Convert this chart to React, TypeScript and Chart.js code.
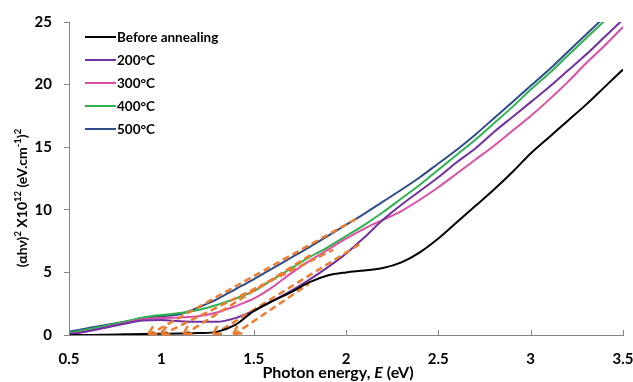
import React, { useEffect, useRef } from 'react';
import { Chart, registerables } from 'chart.js';

Chart.register(...registerables);

// ---------- data ----------
const energy = [0.5, 0.6, 0.7, 0.8, 0.9, 1.0, 1.1, 1.2, 1.3, 1.4, 1.5, 1.6, 1.7, 1.8, 1.9, 2.0, 2.1, 2.2, 2.3, 2.4, 2.5, 2.6, 2.7, 2.8, 2.9, 3.0, 3.1, 3.2, 3.3, 3.4, 3.5];

const beforeAnnealing = [0, 0, 0.02, 0.05, 0.08, 0.1, 0.12, 0.15, 0.25, 0.8, 1.9, 2.7, 3.4, 4.2, 4.75, 5.0, 5.15, 5.35, 5.8, 6.6, 7.7, 9.0, 10.3, 11.6, 13.0, 14.5, 15.8, 17.1, 18.4, 19.8, 21.2];
const annealed200 = [0.05, 0.3, 0.6, 0.9, 1.15, 1.2, 1.1, 1.05, 1.05, 1.35, 1.95, 2.7, 3.5, 4.4, 5.4, 6.5, 7.8, 9.2, 10.4, 11.5, 12.6, 13.8, 14.9, 16.2, 17.4, 18.6, 19.8, 21.1, 22.4, 23.8, 25.2];
const annealed300 = [0.05, 0.3, 0.6, 0.95, 1.25, 1.35, 1.4, 1.5, 1.8, 2.3, 2.9, 3.8, 4.9, 5.9, 6.8, 7.7, 8.5, 9.2, 9.9, 10.8, 11.8, 12.9, 14.0, 15.1, 16.3, 17.5, 18.8, 20.2, 21.7, 23.1, 24.6];
const annealed400 = [0.15, 0.45, 0.75, 1.05, 1.4, 1.6, 1.75, 2.0, 2.4, 2.9, 3.5, 4.4, 5.3, 6.2, 7.0, 7.9, 8.8, 9.8, 10.9, 12.0, 13.2, 14.4, 15.6, 16.9, 18.2, 19.6, 20.9, 22.3, 23.7, 25.1, null];
const annealed500 = [0.25, 0.55, 0.8, 1.05, 1.35, 1.5, 1.65, 2.2, 2.85, 3.65, 4.45, 5.3, 6.15, 7.0, 7.9, 8.8, 9.7, 10.65, 11.6, 12.6, 13.7, 14.8, 16.0, 17.3, 18.6, 19.9, 21.2, 22.6, 24.0, 25.4, null];

const seriesLabels = ['Before annealing', '200°C', '300°C', '400°C', '500°C'];
const seriesColors = ['#000000', '#7030A0', '#DC4FA6', '#2DB350', '#2E4C8B'];

// tangent (Tauc extrapolation) lines: intercept energy and upper end point
const tangentStartE = [1.39, 1.28, 1.12, 1.0, 0.93];
const tangentEndE = [1.8, 2.09, 1.82, 1.93, 2.07];
const tangentEndV = [4.1, 7.4, 6.5, 6.8, 9.4];

const xTicks = [0.5, 1, 1.5, 2, 2.5, 3, 3.5];
const yTicks = [0, 5, 10, 15, 20, 25];

const yTitle = [
  { t: '(αhν)', sup: false },
  { t: '2', sup: true },
  { t: ' X10', sup: false },
  { t: '12', sup: true },
  { t: ' (eV.cm', sup: false },
  { t: '-1', sup: true },
  { t: ')', sup: false },
  { t: '2', sup: true },
];
const xTitle = [
  { t: 'Photon energy, ', italic: false },
  { t: 'E', italic: true },
  { t: ' (eV)', italic: false },
];

const FONT = "Lato, 'Liberation Sans', sans-serif";
const ORANGE = '#ED7D31';
const AXIS = '#868686';

const overlayPlugin = {
  id: 'overlay',
  afterDatasetsDraw(chart: any) {
    const ctx = chart.ctx;
    const xs = chart.scales.x;
    const ys = chart.scales.y;
    ctx.save();
    ctx.strokeStyle = ORANGE;
    ctx.lineWidth = 2.5;
    ctx.setLineDash([]);
    for (let i = 0; i < tangentStartE.length; i++) {
      const x0 = xs.getPixelForValue(tangentStartE[i]);
      const y0 = ys.getPixelForValue(0);
      const x1 = xs.getPixelForValue(tangentEndE[i]);
      const y1 = ys.getPixelForValue(tangentEndV[i]);
      const len = Math.hypot(x1 - x0, y1 - y0);
      const ux = (x1 - x0) / len;
      const uy = (y1 - y0) / len;
      const L = 9;
      const a = (30 * Math.PI) / 180;
      for (const s of [-1, 1]) {
        const c = Math.cos(s * a);
        const sn = Math.sin(s * a);
        const dx = ux * c - uy * sn;
        const dy = ux * sn + uy * c;
        ctx.beginPath();
        ctx.moveTo(x0, y0 - 1);
        ctx.lineTo(x0 + dx * L, y0 - 1 + dy * L);
        ctx.stroke();
      }
    }
    ctx.restore();
  },
  afterDraw(chart: any) {
    const ctx = chart.ctx;
    const xs = chart.scales.x;
    const area = chart.chartArea;
    ctx.save();
    ctx.strokeStyle = AXIS;
    ctx.lineWidth = 1;
    for (const v of xTicks) {
      const px = Math.round(xs.getPixelForValue(v)) + 0.5;
      ctx.beginPath();
      ctx.moveTo(px, area.bottom);
      ctx.lineTo(px, area.bottom - 5);
      ctx.stroke();
    }
    // legend
    ctx.textBaseline = 'middle';
    ctx.textAlign = 'left';
    ctx.font = `bold 13.5px ${FONT}`;
    const rowY = [37, 60, 83, 106, 129];
    for (let i = 0; i < seriesLabels.length; i++) {
      ctx.strokeStyle = seriesColors[i];
      ctx.lineWidth = 2;
      ctx.beginPath();
      ctx.moveTo(85, rowY[i]);
      ctx.lineTo(116, rowY[i]);
      ctx.stroke();
      ctx.fillStyle = '#000';
      ctx.fillText(seriesLabels[i], 117, rowY[i] + 1);
    }
    // x title
    let total = 0;
    const widths = xTitle.map((s) => {
      ctx.font = `${s.italic ? 'italic ' : ''}bold 16px ${FONT}`;
      const w = ctx.measureText(s.t).width;
      total += w;
      return w;
    });
    let cx = 338 - total / 2;
    ctx.fillStyle = '#000';
    xTitle.forEach((s, i) => {
      ctx.font = `${s.italic ? 'italic ' : ''}bold 16px ${FONT}`;
      ctx.fillText(s.t, cx, 373);
      cx += widths[i];
    });
    // y title
    ctx.translate(22, 198);
    ctx.rotate(-Math.PI / 2);
    let tot = 0;
    const ws = yTitle.map((s) => {
      ctx.font = s.sup ? `bold 9.5px ${FONT}` : `bold 14px ${FONT}`;
      const w = ctx.measureText(s.t).width;
      tot += w;
      return w;
    });
    let px = -tot / 2;
    yTitle.forEach((s, i) => {
      ctx.font = s.sup ? `bold 9.5px ${FONT}` : `bold 14px ${FONT}`;
      ctx.fillText(s.t, px, s.sup ? -4 : 0);
      px += ws[i];
    });
    ctx.restore();
  },
};

export default function App() {
  const ref = useRef<HTMLCanvasElement | null>(null);
  useEffect(() => {
    if (!ref.current) return;
    const allSeries = [beforeAnnealing, annealed200, annealed300, annealed400, annealed500];
    const curveSets = allSeries.map((vals, i) => ({
      label: seriesLabels[i],
      data: energy.map((e, j) => ({ x: e, y: vals[j] })),
      borderColor: seriesColors[i],
      borderWidth: 2,
      pointRadius: 0,
      fill: false,
      cubicInterpolationMode: 'monotone' as const,
      order: i === 0 ? 0 : 2,
    }));
    const tangentSets = tangentStartE.map((e0, i) => ({
      label: 'tangent ' + seriesLabels[i],
      data: [
        { x: e0, y: 0 },
        { x: tangentEndE[i], y: tangentEndV[i] },
      ],
      borderColor: ORANGE,
      borderWidth: 2.5,
      borderDash: [7, 4],
      pointRadius: 0,
      fill: false,
      order: 1,
    }));
    const chart = new Chart(ref.current, {
      type: 'line',
      data: { datasets: [...curveSets, ...tangentSets] as any },
      options: {
        animation: false,
        responsive: false,
        maintainAspectRatio: false,
        layout: { padding: { top: 22, right: 10, left: 0, bottom: 0 } },
        plugins: { legend: { display: false }, tooltip: { enabled: false } },
        scales: {
          x: {
            type: 'linear',
            min: 0.5,
            max: 3.5,
            afterBuildTicks: (s: any) => {
              s.ticks = xTicks.map((v) => ({ value: v }));
            },
            afterFit: (s: any) => {
              s.height = 47;
              s.paddingRight = 0;
              s.paddingLeft = 0;
            },
            grid: { display: true, drawOnChartArea: false, drawTicks: false },
            border: { color: AXIS, width: 1 },
            ticks: {
              color: '#000',
              font: { family: FONT, size: 15, weight: 'bold' },
              padding: 15,
              maxRotation: 0,
              callback: (v: any) => String(v),
            },
          },
          y: {
            min: 0,
            max: 25,
            afterBuildTicks: (s: any) => {
              s.ticks = yTicks.map((v) => ({ value: v }));
            },
            afterFit: (s: any) => {
              s.width = 69;
              s.paddingTop = 0;
              s.paddingBottom = 0;
            },
            grid: { display: true, drawOnChartArea: false, drawTicks: true, tickLength: 5, color: AXIS },
            border: { color: AXIS, width: 1 },
            ticks: {
              color: '#000',
              font: { family: FONT, size: 15, weight: 'bold' },
              padding: 12,
              callback: (v: any) => String(v),
            },
          },
        },
      },
      plugins: [overlayPlugin],
    });
    return () => chart.destroy();
  }, []);
  return (
    <div style={{ position: 'fixed', left: 0, top: 0, width: 633, height: 382, background: '#fff' }}>
      <canvas ref={ref} width={633} height={382} style={{ width: 633, height: 382 }} />
    </div>
  );
}
